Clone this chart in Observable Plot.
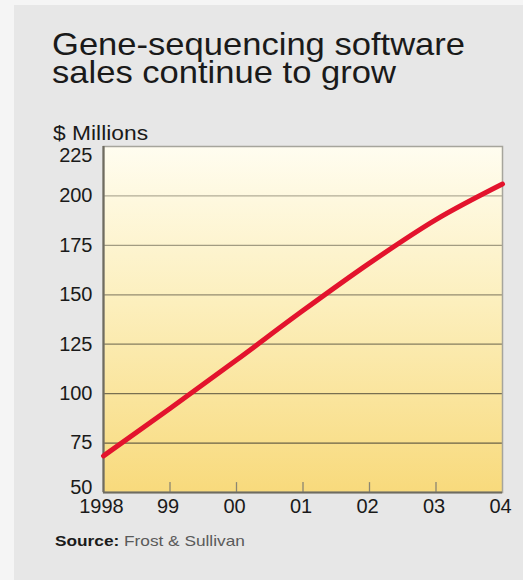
<!DOCTYPE html>
<html>
<head>
<meta charset="utf-8">
<script src="https://cdn.jsdelivr.net/npm/d3@7"></script>
<script src="https://cdn.jsdelivr.net/npm/@observablehq/plot@0.6"></script>
<style>
  body { margin:0; width:523px; height:580px; overflow:hidden; position:relative; background:#f5f5f5; font-family:"Liberation Sans", Arial, Helvetica, sans-serif; }
  #panel { position:absolute; left:14px; top:5px; right:0; bottom:0; background:#e7e7e7; }
  .txt { position:absolute; white-space:nowrap; transform-origin:left top; color:#1a1a1a; }
  .title { left:52px; font-size:32px; line-height:28px; height:28px; transform:scaleX(1.08); }
  #title1 { top:30px; }
  #title2 { top:58px; }
  #unit { left:53px; top:123px; font-size:20px; line-height:20px; transform:scaleX(1.14); }
  #source { left:55px; top:533px; font-size:15px; line-height:15px; transform:scaleX(1.15); }
  #source b { color:#1a1a1a; }
  #source span { color:#5a5a5a; }
  #chart { position:absolute; left:0; top:120px; }
</style>
</head>
<body>
<div id="panel"></div>
<div id="title1" class="txt title">Gene-sequencing software</div>
<div id="title2" class="txt title">sales continue to grow</div>
<div id="unit" class="txt">$ Millions</div>
<div id="chart"></div>
<div id="source" class="txt"><b>Source:</b> <span>Frost &amp; Sullivan</span></div>
<script>
const years = [1998, 1999, 2000, 2001, 2002, 2003, 2004];
const sales = [68.5, 92.5, 117, 142, 166, 188, 206];
const xTickLabels = ["1998", "99", "00", "01", "02", "03", "04"];
const yTicks = [50, 75, 100, 125, 150, 175, 200, 225];

const data = years.map((year, i) => ({year, sales: sales[i]}));
const innerTicks = yTicks.slice(1, -1);

const defs = () => {
  const svgNS = "http://www.w3.org/2000/svg";
  const d = document.createElementNS(svgNS, "defs");
  d.innerHTML = `<linearGradient id="bggrad" x1="0" y1="0" x2="0" y2="1">
    <stop offset="0" stop-color="#fffdf0"/>
    <stop offset="0.45" stop-color="#fcefbd"/>
    <stop offset="1" stop-color="#f8da7c"/>
  </linearGradient>`;
  return d;
};

const chart = Plot.plot({
  width: 523,
  height: 410,
  marginLeft: 103,
  marginRight: 21,
  marginTop: 26,
  marginBottom: 38,
  style: {background: "transparent", fontFamily: "'Liberation Sans', Arial, sans-serif", fontSize: "20px", color: "#1a1a1a"},
  x: {domain: [1998, 2004], label: null},
  y: {domain: [50, 225], label: null},
  opacity: {type: "identity"},
  marks: [
    defs,
    Plot.frame({fill: "url(#bggrad)", stroke: "none"}),
    Plot.ruleY(innerTicks, {y: d => d, stroke: "#4a4636", strokeWidth: 1.3, strokeOpacity: d => 0.35 + (225 - d) / 175 * 0.55}),
    Plot.ruleX(years.slice(1, -1), {x: d => d, y1: 50, y2: 55, stroke: "#8a8672", strokeWidth: 1.3}),
    Plot.frame({stroke: "#a6a59c", strokeWidth: 1.5}),
    Plot.ruleX([years[0]], {stroke: "#6f6c60", strokeWidth: 2.2}),
    Plot.ruleY([yTicks[0]], {stroke: "#6f6c60", strokeWidth: 2.2}),
    Plot.line(data, {x: "year", y: "sales", stroke: "#e3132d", strokeWidth: 5, curve: "monotone-x"}),
    Plot.axisX(years, {tickSize: 0, tickPadding: 6, fontSize: 20, dx: -2, label: null, tickFormat: d => xTickLabels[years.indexOf(d)]}),
    Plot.axisY(innerTicks, {tickSize: 0, tickPadding: 11, fontSize: 20, label: null, tickFormat: d => String(d)}),
    Plot.axisY([yTicks[yTicks.length - 1]], {tickSize: 0, tickPadding: 11, fontSize: 20, dy: 9, label: null, tickFormat: d => String(d)}),
    Plot.axisY([yTicks[0]], {tickSize: 0, tickPadding: 11, fontSize: 20, dy: -5, label: null, tickFormat: d => String(d)})
  ]
});
document.getElementById("chart").appendChild(chart);
</script>
</body>
</html>
